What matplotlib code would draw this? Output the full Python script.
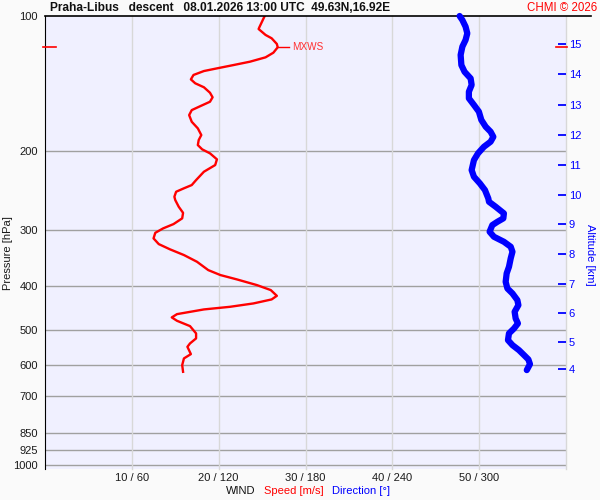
import matplotlib
matplotlib.use("Agg")
import matplotlib.pyplot as plt

plt.rcParams["font.family"] = ["Liberation Sans", "DejaVu Sans"]

# Wind speed profile (m/s) vs pressure (hPa)
speed_p = [100, 105.8, 106.9, 110.2, 112.1, 115.4, 117.4, 120.7, 123.6, 126.4,
           128.6, 130.8, 132.6, 135.3, 138.4, 141.2, 144.1, 148.2, 151.7, 155.2,
           158.7, 162.0, 166.2, 172.0, 177.9, 184.1, 188.9, 193.8, 198.1, 202.2,
           208.5, 214.7, 222.2, 231.9, 237.9, 241.9, 246.2, 252.6, 256.9, 265.9,
           274.3, 282.2, 290.6, 297.1, 303.9, 312.7, 322.0, 330.8, 340.6, 352.5,
           367.9, 377.4, 385.9, 397.3, 407.6, 419.8, 427.6, 436.5, 444.1, 450.1,
           461.1, 468.9, 477.1, 490.3, 509.0, 522.2, 535.8, 545.2, 566.0, 578.6,
           598.8, 619.7]
speed = [25.3, 24.7, 24.6, 25.4, 26.1, 26.7, 26.8, 26.3, 25.4, 23.6,
         21.7, 19.8, 18.3, 17.1, 16.8, 17.3, 18.3, 19.0, 19.3, 19.0,
         17.9, 16.9, 16.6, 16.9, 17.6, 18.0, 17.7, 17.6, 18.1, 19.0,
         19.8, 19.6, 18.3, 17.4, 16.9, 16.0, 15.1, 14.9, 15.0, 15.4,
         15.9, 15.8, 14.8, 13.6, 12.7, 12.5, 13.1, 14.4, 16.0, 17.5,
         18.8, 20.2, 22.1, 24.4, 26.0, 26.7, 26.1, 24.0, 21.3, 18.3,
         15.2, 14.6, 15.2, 16.7, 17.4, 17.4, 16.7, 16.4, 16.8, 16.0,
         15.8, 15.9]

# Wind direction profile (deg) vs pressure (hPa)
dir_p = [100, 102.1, 105.6, 109.3, 113.1, 117.0, 122.1, 128.6, 133.1, 137.7,
         142.4, 147.4, 152.5, 157.8, 163.3, 170.4, 176.4, 181.0, 185.8, 190.5,
         195.5, 202.2, 209.3, 220.3, 228.0, 235.9, 244.1, 254.7, 259.2, 265.9,
         275.1, 282.2, 287.2, 292.1, 302.2, 310.1, 318.2, 326.4, 334.9, 346.4,
         361.7, 374.2, 390.7, 404.2, 414.7, 429.1, 440.3, 455.6, 471.4, 483.6,
         496.2, 509.0, 526.8, 540.5, 554.6, 568.9, 581.6, 595.8, 614.3]
direction = [286.5, 288.4, 290.6, 291.8, 290.6, 288.4, 287.2, 287.7, 289.9, 294.1,
             294.8, 292.9, 292.9, 296.4, 299.8, 301.5, 304.5, 307.9, 309.8, 307.9,
             303.3, 299.2, 296.4, 294.8, 296.4, 300.5, 304.0, 306.3, 306.8, 311.4,
             317.1, 316.7, 312.6, 309.1, 307.2, 310.2, 317.1, 321.8, 323.0, 321.8,
             320.6, 319.0, 318.3, 319.5, 323.0, 326.4, 327.1, 324.5, 325.2, 326.8,
             324.1, 320.6, 319.9, 323.0, 327.5, 331.0, 334.0, 335.1, 332.9]

# Max wind level
mxws_p = 117.4
mxws_speed = 26.8

# Axes ticks
p_levels = [100, 200, 300, 400, 500, 600, 700, 850, 925, 1000]
speed_ticks = [10, 20, 30, 40, 50]
dir_ticks = [60, 120, 180, 240, 300]
alt_km = [4, 5, 6, 7, 8, 9, 10, 11, 12, 13, 14, 15]
alt_p = [611, 532, 458, 395, 339, 290, 250, 214.7, 184, 157.8, 134.6, 115.2]

fig = plt.figure(figsize=(6, 5), dpi=100, facecolor="#fafafa")
ax = fig.add_axes([45 / 600, 1 - 469 / 500, 521 / 600, 453 / 500])
ax.set_facecolor("#f0f0ff")
ax.set_yscale("log")
ax.set_ylim(1020, 100)
ax.set_xlim(0, 60)

# grid
for p in p_levels[1:]:
    ax.axhline(p, color="#a0a0a0", lw=1, zorder=1)
for s in speed_ticks + [60]:
    ax.axvline(s, color="#d8d8d8", lw=1, zorder=1, clip_on=False)

for side in ["right", "bottom", "top"]:
    ax.spines[side].set_visible(False)
ax.spines["left"].set_color("black")
ax.plot([0, 1.048], [1, 1], transform=ax.transAxes, color="black",
        lw=1.2, clip_on=False, zorder=5)

ax.set_yticks(p_levels)
ax.set_yticklabels([str(p) for p in p_levels])
ax.yaxis.set_minor_locator(plt.NullLocator())
ax.set_xticks(speed_ticks)
ax.set_xticklabels([f"{s} / {d}" for s, d in zip(speed_ticks, dir_ticks)])
ax.tick_params(axis="both", length=0, labelsize=8, colors="#1a1a1a")
ax.tick_params(axis="y", pad=5)
ax.tick_params(axis="x", pad=3)

# speed
ax.plot(speed, speed_p, color="#ff0000", lw=1.7, zorder=4)

# direction on its own x scale
axd = ax.twiny()
axd.set_xlim(0, 360)
axd.plot(direction, dir_p, color="#0000ff", lw=4.5, solid_capstyle="round",
         solid_joinstyle="round", zorder=4, clip_on=False)
axd.set_xticks([])
for side in axd.spines:
    axd.spines[side].set_visible(False)
axd.set_ylim(1020, 100)

# altitude ticks on the right
axa = ax.twinx()
axa.set_yscale("log")
axa.set_ylim(1020, 100)
axa.set_yticks(alt_p)
axa.set_yticklabels([str(k) for k in alt_km])
axa.yaxis.set_minor_locator(plt.NullLocator())
axa.tick_params(axis="y", direction="in", length=6, width=1.3, color="#0000ff",
                labelcolor="#0000ff", labelsize=8, pad=2)
for side in axa.spines:
    axa.spines[side].set_visible(False)

# MXWS markers
ax.axhline(mxws_p, xmin=-0.004, xmax=0.021, color="#ff0000", lw=1.2, clip_on=False, zorder=6)
ax.axhline(mxws_p, xmin=0.98, xmax=1.002, color="#ff0000", lw=1.2, clip_on=False, zorder=6)
ax.plot([mxws_speed, mxws_speed + 1.3], [mxws_p, mxws_p], color="#ff0000", lw=1, zorder=4)
ax.text(mxws_speed + 1.7, mxws_p, "MXWS", color="#ff3030", fontsize=7.2, va="center", ha="left")

# texts
fig.text(50 / 600, 1 - 8 / 500, "Praha-Libus   descent   08.01.2026 13:00 UTC  49.63N,16.92E",
         fontsize=8.6, fontweight="bold", va="center", ha="left", color="#111111")
fig.text(597 / 600, 1 - 8 / 500, "CHMI \u00a9 2026", fontsize=8.3, color="#ff0000",
         va="center", ha="right")
fig.text(8 / 600, 1 - 253 / 500, "Pressure [hPa]", rotation=90, fontsize=8,
         va="center", ha="center", color="#1a1a1a")
fig.text(590 / 600, 1 - 255 / 500, "Altitude [km]", rotation=270, fontsize=8,
         va="center", ha="center", color="#0000ff")
fig.text(226 / 600, 1 - 491 / 500, "WIND", fontsize=8, va="center", ha="left", color="#111111")
fig.text(264 / 600, 1 - 491 / 500, "Speed [m/s]", fontsize=8, va="center", ha="left", color="#ff0000")
fig.text(332 / 600, 1 - 491 / 500, "Direction [\u00b0]", fontsize=8, va="center", ha="left", color="#0000ff")

fig.savefig("out.png", dpi=100, facecolor=fig.get_facecolor())
